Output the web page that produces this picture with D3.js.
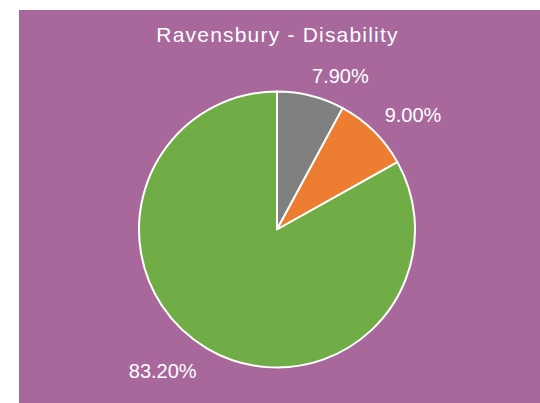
<!DOCTYPE html>
<html>
<head>
<meta charset="utf-8">
<script src="https://cdn.jsdelivr.net/npm/d3@7"></script>
<style>
  html, body { margin: 0; padding: 0; background: #ffffff; }
  svg { display: block; }
</style>
</head>
<body>
<svg id="chart" width="540" height="403"></svg>
<script>
// Disability breakdown for Ravensbury
const categories = ["Gray", "Orange", "Green"];
const values = [7.9, 9.0, 83.2];
const labels = ["7.90%", "9.00%", "83.20%"];
const colors = ["#808080", "#ED7D31", "#70AD47"];
const title = "Ravensbury - Disability";

const width = 540, height = 403;
const svg = d3.select("#chart");

// panel background
svg.append("rect")
  .attr("x", 19).attr("y", 10)
  .attr("width", width - 19).attr("height", height - 10)
  .attr("fill", "#A8689C");

svg.append("text")
  .attr("x", 277.5).attr("y", 42)
  .attr("text-anchor", "middle")
  .attr("fill", "#ffffff")
  .style("font-family", "'Liberation Sans', Arial, sans-serif")
  .style("font-size", "21px")
  .style("letter-spacing", "1.2px")
  .text(title);

const cx = 277, cy = 229.5, r = 138;
const g = svg.append("g").attr("transform", `translate(${cx},${cy})`);

const pie = d3.pie().sort(null).value(d => d.value);
const data = categories.map((c, i) => ({ cat: c, value: values[i], label: labels[i], color: colors[i] }));
const arcs = pie(data);

const arc = d3.arc().innerRadius(0).outerRadius(r);

g.selectAll("path")
  .data(arcs)
  .join("path")
  .attr("d", arc)
  .attr("fill", d => d.data.color)
  .attr("stroke", "#ffffff")
  .attr("stroke-width", 2)
  .attr("stroke-linejoin", "round");

// labels sit just outside the rim, anchored away from the pie
const labelR = r + 13;
const capH = 14;
g.selectAll("text.lbl")
  .data(arcs)
  .join("text")
  .attr("class", "lbl")
  .each(function (d) {
    const a = (d.startAngle + d.endAngle) / 2;
    const x = labelR * Math.sin(a);
    const y = -labelR * Math.cos(a);
    const right = Math.sin(a) >= 0;
    const top = Math.cos(a) >= 0;
    d3.select(this)
      .attr("x", right ? x + 2 * (Math.sin(a) - 0.5) * 4 : x - 4)
      .attr("y", top ? y : y + capH + 4)
      .attr("text-anchor", right ? "start" : "end");
  })
  .attr("fill", "#ffffff")
  .style("font-family", "'Liberation Sans', Arial, sans-serif")
  .style("font-size", "20px")
  .text(d => d.data.label);
</script>
</body>
</html>
